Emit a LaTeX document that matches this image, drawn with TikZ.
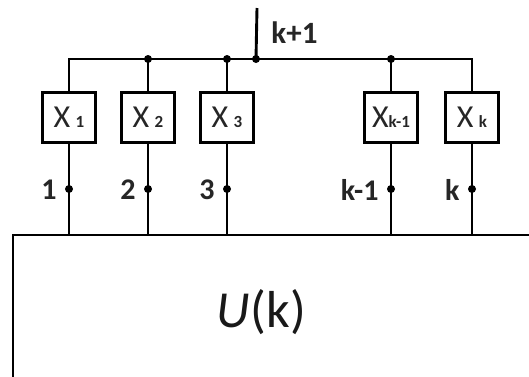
\documentclass[tikz,border=0pt]{standalone}
\usepackage{fontspec}
\setmainfont{Carlito}
\begin{document}
\begin{tikzpicture}[x=1pt,y=-1pt, line width=2.9pt, line cap=butt,
 xbox/.style={draw, minimum width=53pt, minimum height=50pt, inner sep=0pt, font=\fontsize{32}{32}\selectfont, text=black!85},
 jdot/.style={circle, fill, inner sep=0pt, minimum size=8pt},
 lbl/.style={anchor=east, inner sep=0pt, font=\bfseries\fontsize{30}{30}\selectfont, text=black!85}]
\useasboundingbox (0,0) rectangle (529,376);
\newcommand{\xsub}[1]{{\bfseries\fontsize{17}{17}\selectfont #1}}
% boxes
\node[xbox] (x1) at (69,117.5) {X\,\xsub{1}};
\node[xbox] (x2) at (148,117.5) {X\,\xsub{2}};
\node[xbox] (x3) at (227,117.5) {X\,\xsub{3}};
\node[xbox] (xk1) at (391,117.5) {X\xsub{k-1}};
\node[xbox] (xk) at (472,117.5) {X\,\xsub{k}};
% bus
\coordinate (bl) at (69,59);
\coordinate (br) at (472,59);
\node[jdot] (j2) at (148,59) {};
\node[jdot] (j3) at (227,59) {};
\node[jdot] (jt) at (256,59) {};
\node[jdot] (jk1) at (391,59) {};
\coordinate (top) at (257,8);
\draw (x1.north) -- (bl) -- (br) -- (xk.north);
\draw (j2.center) -- (x2.north);
\draw (j3.center) -- (x3.north);
\draw (jk1.center) -- (xk1.north);
\draw (top) -- (jt.center);
\node[anchor=west, inner sep=0pt, font=\bfseries\fontsize{31}{31}\selectfont, text=black!85] (kp1) at (270,33) {k+1};
% bottom block
\coordinate (ul) at (13,235);
\coordinate (ur) at (535,235);
\coordinate (ub) at (13,385);
\draw (ur) -- (ul) -- (ub);
% outputs
\foreach \n/\xx/\t in {x1/69/1, x2/148/2, x3/227/3, xk1/391/k-1, xk/472/k}{
  \coordinate (b\n) at (\xx,235);
  \node[jdot] (d\n) at (\xx,189) {};
  \draw (\n.south) -- (b\n);
  \node[lbl] (l\n) at (\xx-11,190) {\t};
}
\node[font=\fontsize{52}{52}\selectfont, text=black!90] (U) at (261,312) {\textit{U}\kern1pt(k)};
\end{tikzpicture}
\end{document}
